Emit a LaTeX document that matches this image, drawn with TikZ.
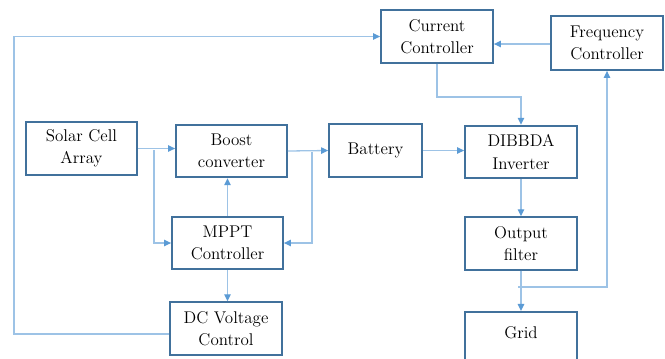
\documentclass[tikz,border=0pt]{standalone}
\usetikzlibrary{arrows.meta, positioning, calc}
\definecolor{boxblue}{HTML}{41719C}
\definecolor{lineblue}{HTML}{9DC3E6}
\definecolor{tipblue}{HTML}{5B9BD5}

\begin{document}
\begin{tikzpicture}[x=0.03cm, y=-0.03cm,
  block/.style={draw=boxblue, line width=1.5pt, minimum width=3.33cm,
    minimum height=1.58cm, align=center, inner sep=0pt, text=black,
    font=\fontsize{14.5}{19}\selectfont},
  link/.style={draw=lineblue, line width=1.1pt,
    -{Triangle[length=6pt, width=5.5pt, color=tipblue]}}]
  \useasboundingbox (0,0) rectangle (665,358);

  % Blocks
  \node[block] (solar) at (81.5,148.5) {Solar Cell\\Array};
  \node[block] (boost) at (231.5,151) {Boost\\converter};
  \node[block, minimum width=2.79cm] (battery) at (375.5,150.5) {Battery};
  \node[block, minimum width=3.36cm] (dibbda) at (521,152) {DIBBDA\\Inverter};
  \node[block, minimum width=3.36cm] (current) at (437,36.5) {Current\\Controller};
  \node[block, minimum width=3.36cm, minimum height=1.62cm] (freq) at (607,43)
    {Frequency\\Controller};
  \node[block] (mppt) at (227.5,243) {MPPT\\Controller};
  \node[block, minimum width=3.36cm] (dcv) at (226,328.5) {DC Voltage\\Control};
  \node[block, minimum width=3.36cm] (filter) at (521,243.5) {Output\\filter};
  \node[block, minimum width=3.36cm, anchor=north, text depth=0.35cm] (grid)
    at (521,311) {Grid};

  % Branch points
  \coordinate (sjoin) at (154,150);
  \coordinate (bjoin) at (312,152);
  \coordinate (fjoin) at (518,287);
  \coordinate (lbot) at (14,334);

  % Power path
  \draw[link] (solar.east) -- (solar.east -| boost.west);
  \draw[link] (boost.east) -- (battery.west);
  \draw[link] (battery.east) -- (battery.east -| dibbda.west);
  \draw[link] (dibbda.south) -- (filter.north);
  \draw[link] (filter.south) -- (grid.north);

  % MPPT loop
  \draw[link] (sjoin) |- (mppt.west);
  \draw[link] (bjoin) |- (mppt.east);
  \draw[link] (mppt.north) -- (mppt.north |- boost.south);
  \draw[link] (mppt.south) -- (mppt.south |- dcv.north);

  % Control loops
  \draw[link] (dcv.west |- lbot) -- (lbot) |- (current.west);
  \draw[link] ([yshift=-0.3mm]freq.west) -- ([yshift=-0.3mm]freq.west -| current.east);
  \draw[link] (current.south) -- (current.south |- 0,97) -| (dibbda.north);
  \draw[link] (fjoin) -| (freq.south);
\end{tikzpicture}
\end{document}
